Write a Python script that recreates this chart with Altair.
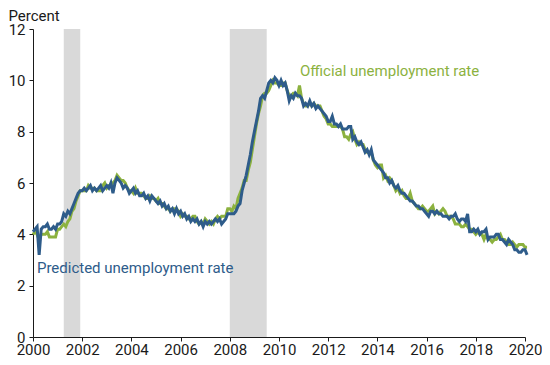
import altair as alt
import pandas as pd

# Monthly values, Jan 2000 .. Feb 2020
official = [
    4.0, 4.1, 4.0, 3.8, 4.0, 4.0, 4.0, 4.1, 3.9, 3.9, 3.9, 3.9,
    4.2, 4.2, 4.3, 4.4, 4.3, 4.5, 4.6, 4.9, 5.0, 5.3, 5.5, 5.7,
    5.7, 5.7, 5.7, 5.9, 5.8, 5.8, 5.8, 5.7, 5.7, 5.7, 5.9, 6.0,
    5.8, 5.9, 5.9, 6.0, 6.1, 6.3, 6.2, 6.1, 6.1, 6.0, 5.8, 5.7,
    5.7, 5.6, 5.8, 5.6, 5.6, 5.6, 5.5, 5.4, 5.4, 5.5, 5.4, 5.4,
    5.3, 5.4, 5.2, 5.2, 5.1, 5.0, 5.0, 4.9, 5.0, 5.0, 5.0, 4.9,
    4.7, 4.8, 4.7, 4.7, 4.6, 4.6, 4.7, 4.7, 4.5, 4.4, 4.5, 4.4,
    4.6, 4.5, 4.4, 4.5, 4.4, 4.6, 4.7, 4.6, 4.7, 4.7, 4.7, 5.0,
    5.0, 4.9, 5.1, 5.0, 5.4, 5.6, 5.8, 6.1, 6.1, 6.5, 6.8, 7.3,
    7.8, 8.3, 8.7, 9.0, 9.4, 9.5, 9.5, 9.6, 9.8, 10.0, 9.9, 9.9,
    9.8, 9.8, 9.9, 9.9, 9.6, 9.4, 9.4, 9.5, 9.5, 9.4, 9.8, 9.3,
    9.1, 9.0, 9.0, 9.1, 9.0, 9.1, 9.0, 9.0, 9.0, 8.8, 8.6, 8.5,
    8.3, 8.3, 8.2, 8.2, 8.2, 8.2, 8.2, 8.1, 7.8, 7.8, 7.7, 7.9,
    8.0, 7.7, 7.5, 7.6, 7.5, 7.5, 7.3, 7.2, 7.2, 7.2, 6.9, 6.7,
    6.6, 6.7, 6.7, 6.2, 6.3, 6.1, 6.2, 6.1, 5.9, 5.7, 5.8, 5.6,
    5.7, 5.5, 5.4, 5.4, 5.6, 5.3, 5.2, 5.1, 5.0, 5.0, 5.1, 5.0,
    4.9, 4.9, 5.0, 5.1, 4.8, 4.9, 4.8, 4.9, 5.0, 4.9, 4.7, 4.7,
    4.7, 4.6, 4.4, 4.4, 4.4, 4.3, 4.3, 4.4, 4.3, 4.2, 4.2, 4.1,
    4.0, 4.1, 4.0, 4.0, 3.8, 4.0, 3.8, 3.8, 3.7, 3.8, 3.8, 3.9,
    4.0, 3.8, 3.8, 3.7, 3.6, 3.6, 3.7, 3.6, 3.5, 3.6, 3.6, 3.6,
    3.5, 3.5,
]

predicted = [
    4.1, 4.2, 4.3, 3.2, 4.2, 4.3, 4.3, 4.4, 4.2, 4.2, 4.3, 4.2,
    4.4, 4.4, 4.5, 4.8, 4.7, 4.9, 4.8, 5.0, 5.2, 5.4, 5.6, 5.7,
    5.7, 5.8, 5.7, 5.8, 5.9, 5.7, 5.8, 5.7, 5.8, 5.9, 5.7, 5.8,
    5.9, 5.8, 6.0, 5.6, 6.0, 6.2, 6.1, 6.0, 5.8, 5.9, 5.8, 5.6,
    5.7, 5.8, 5.6, 5.7, 5.5, 5.5, 5.6, 5.4, 5.5, 5.3, 5.5, 5.4,
    5.3, 5.2, 5.3, 5.1, 5.2, 5.0, 5.1, 4.9, 5.0, 4.8, 5.0, 4.8,
    4.9, 4.7, 4.8, 4.6, 4.7, 4.5, 4.6, 4.5, 4.6, 4.4, 4.5, 4.3,
    4.5, 4.4, 4.5, 4.4, 4.5, 4.6, 4.5, 4.6, 4.4, 4.5, 4.6, 4.8,
    4.8, 4.8, 4.8, 4.9, 5.1, 5.2, 5.7, 6.0, 6.3, 6.7, 7.1, 7.6,
    8.0, 8.4, 8.8, 9.3, 9.4, 9.3, 9.6, 9.9, 10.0, 9.9, 10.1, 10.0,
    9.8, 10.0, 9.8, 9.9, 9.6, 9.2, 9.4, 9.3, 9.5, 9.4, 9.4, 9.3,
    9.0, 9.1, 9.0, 9.2, 9.0, 9.1, 8.9, 9.0, 8.9, 8.8, 8.7, 8.6,
    8.4, 8.4, 8.6, 8.3, 8.3, 8.2, 8.3, 8.1, 8.1, 8.1, 8.2, 8.2,
    7.7, 7.8, 7.6, 7.5, 7.6, 7.4, 7.2, 7.3, 7.1, 7.3, 6.9, 6.8,
    6.7, 6.6, 6.5, 6.4, 6.2, 6.2, 6.0, 6.1, 5.9, 5.8, 5.9, 5.7,
    5.6, 5.6, 5.5, 5.4, 5.3, 5.3, 5.2, 5.1, 5.1, 5.0, 5.0, 4.9,
    4.8, 4.7, 4.9, 4.9, 4.8, 4.9, 4.8, 4.8, 4.7, 4.7, 4.7, 4.6,
    4.7, 4.7, 4.8, 4.6, 4.5, 4.6, 4.6, 4.5, 4.8, 4.1, 4.1, 4.2,
    4.1, 4.2, 4.0, 4.1, 4.1, 4.2, 3.8, 3.9, 3.9, 3.9, 4.0, 4.0,
    3.8, 3.8, 3.7, 3.6, 3.8, 3.7, 3.6, 3.4, 3.4, 3.3, 3.3, 3.4,
    3.4, 3.2,
]

rec_start = [2001.25, 2008.0]
rec_end = [2001.92, 2009.5]

x_ticks = list(range(2000, 2021, 2))
y_ticks = list(range(0, 13, 2))

GREEN = "#8CB23F"
BLUE = "#2E5C8A"
FONT = "Roboto"
INK = "#1a1a1a"

t = [2000 + i / 12 for i in range(len(official))]
df = pd.DataFrame({"t": t, "official": official, "predicted": predicted})
rec = pd.DataFrame({"s": rec_start, "e": rec_end, "lo": [0, 0], "hi": [12, 12]})

xscale = alt.Scale(domain=[2000, 2020], nice=False, zero=False)
yscale = alt.Scale(domain=[0, 12], nice=False)

xaxis = alt.Axis(values=x_ticks, format="d", title=None, grid=False,
                 tickSize=4, labelPadding=1, labelFontSize=15,
                 labelOverlap=False, labelFlush=False,
                 labelColor=INK, domainColor=INK, tickColor=INK,
                 labelFont=FONT)
yaxis = alt.Axis(values=y_ticks, title="Percent", grid=False, tickSize=4,
                 labelPadding=4, labelFontSize=15, labelColor=INK,
                 labelOverlap=False, labelFlush=False,
                 domainColor=INK, tickColor=INK, labelFont=FONT,
                 titleAngle=0, titleX=-25, titleY=-9, titleAlign="left",
                 titleBaseline="alphabetic", titleFontSize=15,
                 titleFontWeight="normal", titleColor=INK, titleFont=FONT)

bands = alt.Chart(rec).mark_rect(color="#d9d9d9").encode(
    x=alt.X("s:Q", scale=xscale, axis=xaxis),
    x2="e:Q",
    y=alt.Y("lo:Q", scale=yscale, axis=yaxis),
    y2="hi:Q",
)

line_off = alt.Chart(df).mark_line(color=GREEN, strokeWidth=3).encode(
    x=alt.X("t:Q", scale=xscale), y=alt.Y("official:Q", scale=yscale)
)
line_pred = alt.Chart(df).mark_line(color=BLUE, strokeWidth=3).encode(
    x=alt.X("t:Q", scale=xscale), y=alt.Y("predicted:Q", scale=yscale)
)

labels = pd.DataFrame({
    "x": [2010.85, 2000.16],
    "y": [10.15, 2.49],
    "txt": ["Official unemployment rate", "Predicted unemployment rate"],
    "c": [GREEN, BLUE],
})
text = alt.Chart(labels).mark_text(align="left", baseline="alphabetic",
                                   fontSize=15, font=FONT).encode(
    x=alt.X("x:Q", scale=xscale), y=alt.Y("y:Q", scale=yscale),
    text="txt:N", color=alt.Color("c:N", scale=None),
)

chart = alt.layer(bands, line_off, line_pred, text).properties(
    width=492, height=308,
    autosize=alt.AutoSizeParams(type="none"),
    padding={"left": 25, "top": 21, "right": 17, "bottom": 20},
).configure_view(stroke=None)

chart.save("out.html", embed_options={"renderer": "svg", "actions": False})
